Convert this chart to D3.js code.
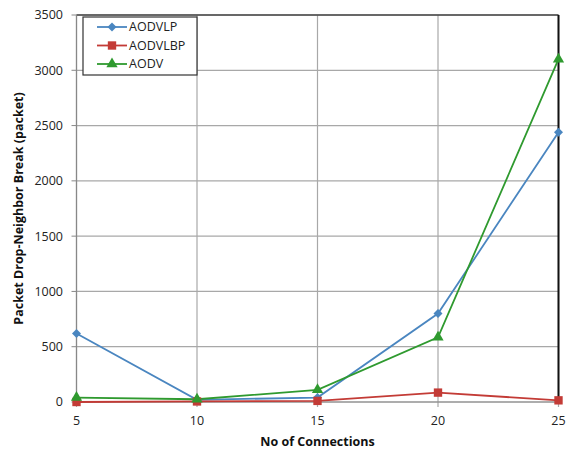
<!DOCTYPE html>
<html><head><meta charset="utf-8">
<script src="https://cdn.jsdelivr.net/npm/d3@7"></script>
<style>body{margin:0;background:#fff}svg{display:block}text{font-family:"Open Sans",sans-serif}</style>
</head><body>
<svg id="c" width="570" height="454"></svg>
<script>
const connections = [5, 10, 15, 20, 25];
const aodvlp = [620, 20, 40, 800, 2440];
const aodvlbp = [0, 5, 10, 85, 15];
const aodv = [40, 25, 110, 585, 3100];
const yTicks = [0, 500, 1000, 1500, 2000, 2500, 3000, 3500];
const seriesNames = ["AODVLP", "AODVLBP", "AODV"];

const series = [
  {name: seriesNames[0], values: aodvlp, color: "#4a86c0", shape: d3.symbolSquare, size: 40, rot: 45},
  {name: seriesNames[1], values: aodvlbp, color: "#c33b36", shape: d3.symbolSquare, size: 70, rot: 0},
  {name: seriesNames[2], values: aodv, color: "#2f9a2f", shape: d3.symbolTriangle, size: 55, rot: 0}
];

const svg = d3.select("#c");
const L = 76.5, R = 558.5, T = 15, B = 402;
const x = d3.scaleLinear().domain([5, 25]).range([L, R]);
const y = d3.scaleLinear().domain([0, 3500]).range([B, T]);

// grid
svg.append("g").selectAll("line").data(yTicks).join("line")
  .attr("x1", L).attr("x2", R).attr("y1", d => y(d)).attr("y2", d => y(d))
  .attr("stroke", "#a8a8a8").attr("stroke-width", 1.2);
svg.append("g").selectAll("line").data(connections).join("line")
  .attr("y1", T).attr("y2", B + 5).attr("x1", d => x(d)).attr("x2", d => x(d))
  .attr("stroke", "#a8a8a8").attr("stroke-width", 1.2);
svg.append("g").selectAll("line").data(yTicks).join("line")
  .attr("x1", L - 5).attr("x2", L).attr("y1", d => y(d)).attr("y2", d => y(d))
  .attr("stroke", "#888").attr("stroke-width", 1);

// frame
svg.append("line").attr("x1", L).attr("x2", R).attr("y1", T).attr("y2", T).attr("stroke", "#444").attr("stroke-width", 1.5);
svg.append("line").attr("x1", R).attr("x2", R).attr("y1", T).attr("y2", B).attr("stroke", "#111").attr("stroke-width", 2);
svg.append("line").attr("x1", L).attr("x2", L).attr("y1", T).attr("y2", B).attr("stroke", "#888").attr("stroke-width", 1.2);
svg.append("line").attr("x1", L).attr("x2", R).attr("y1", B).attr("y2", B).attr("stroke", "#888").attr("stroke-width", 1.2);

// tick labels
svg.append("g").selectAll("text").data(yTicks).join("text")
  .attr("x", 63).attr("y", d => y(d)).attr("dy", "0.35em").attr("text-anchor", "end")
  .attr("font-size", 12.5).attr("fill", "#222").text(d => d);
svg.append("g").selectAll("text").data(connections).join("text")
  .attr("x", d => x(d)).attr("y", 425).attr("text-anchor", "middle")
  .attr("font-size", 12.5).attr("fill", "#222").text(d => d);

// axis titles
svg.append("text").attr("x", (L + R) / 2).attr("y", 446).attr("text-anchor", "middle")
  .attr("font-size", 12.5).attr("font-weight", "bold").attr("fill", "#111").text("No of Connections");
svg.append("text").attr("transform", `translate(23,${(T + B) / 2}) rotate(-90)`).attr("text-anchor", "middle")
  .attr("font-size", 12.5).attr("font-weight", "bold").attr("fill", "#111").text("Packet Drop-Neighbor Break (packet)");

// lines
const line = d3.line().x((d, i) => x(connections[i])).y(d => y(d));
series.forEach(s => {
  svg.append("path").attr("d", line(s.values)).attr("fill", "none")
    .attr("stroke", s.color).attr("stroke-width", 1.8);
});
series.forEach(s => {
  svg.append("g").selectAll("path").data(s.values).join("path")
    .attr("transform", (d, i) => `translate(${x(connections[i])},${y(d)}) rotate(${s.rot})`)
    .attr("d", d3.symbol().type(s.shape).size(s.size)).attr("fill", s.color);
});

// legend
const lg = svg.append("g");
lg.append("rect").attr("x", 83).attr("y", 17).attr("width", 114).attr("height", 58)
  .attr("fill", "#fff").attr("stroke", "#333").attr("stroke-width", 1.2);
series.forEach((s, i) => {
  const ly = 27 + i * 18.5;
  lg.append("line").attr("x1", 97).attr("x2", 127).attr("y1", ly).attr("y2", ly)
    .attr("stroke", s.color).attr("stroke-width", 1.8);
  lg.append("path").attr("transform", `translate(112,${ly}) rotate(${s.rot})`)
    .attr("d", d3.symbol().type(s.shape).size(s.size)).attr("fill", s.color);
  lg.append("text").attr("x", 129).attr("y", ly).attr("dy", "0.35em")
    .attr("font-size", 12.5).attr("fill", "#222").text(s.name);
});
</script>
</body></html>
